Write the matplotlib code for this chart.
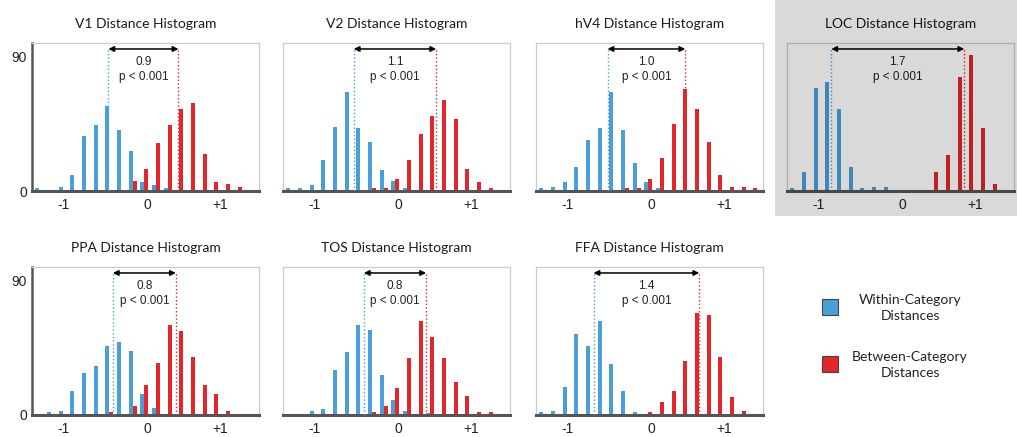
import matplotlib
matplotlib.use("Agg")
import matplotlib.pyplot as plt
from matplotlib.patches import Rectangle
import numpy as np

# ---------------- data ----------------
bin_centers = [-1.425 + 0.15 * k for k in range(19)]

titles = ["V1", "V2", "hV4", "LOC", "PPA", "TOS", "FFA"]

v1_within  = [2, 0, 3, 11, 37, 44, 57, 41, 27, 6, 4, 2, 0, 0, 0, 0, 0, 0, 0]
v1_between = [0, 0, 0, 0, 0, 0, 0, 0, 7, 15, 32, 44, 55, 59, 25, 6, 5, 3, 0]
v2_within  = [2, 2, 4, 21, 43, 66, 42, 33, 14, 7, 2, 0, 0, 0, 0, 0, 0, 0, 0]
v2_between = [0, 0, 0, 0, 0, 0, 0, 2, 2, 8, 21, 38, 50, 61, 48, 15, 6, 2, 0]
hv4_within  = [2, 3, 6, 16, 34, 42, 66, 41, 19, 6, 2, 0, 0, 0, 0, 0, 0, 0, 0]
hv4_between = [0, 0, 0, 0, 0, 0, 0, 2, 2, 8, 22, 45, 68, 55, 33, 11, 3, 3, 2]
loc_within  = [2, 13, 69, 73, 55, 16, 2, 3, 3, 0, 0, 0, 0, 0, 0, 0, 0, 0, 0]
loc_between = [0, 0, 0, 0, 0, 0, 0, 0, 0, 0, 0, 0, 13, 24, 76, 91, 42, 5, 0]
ppa_within  = [0, 2, 3, 16, 28, 33, 46, 49, 43, 14, 5, 0, 0, 0, 0, 0, 0, 0, 0]
ppa_between = [0, 0, 0, 0, 0, 0, 2, 0, 6, 20, 35, 60, 56, 39, 20, 14, 3, 0, 0]
tos_within  = [0, 0, 3, 4, 30, 42, 60, 57, 27, 10, 3, 0, 1.5, 0, 0, 0, 0, 0, 0]
tos_between = [0, 0, 0, 0, 0, 0, 0, 2, 6, 18, 38, 63, 52, 38, 22, 13, 2, 2, 0]
ffa_within  = [2, 3, 19, 54, 46, 63, 34, 16, 2, 0, 0, 0, 0, 0, 0, 0, 0, 0, 0]
ffa_between = [0, 0, 0, 0, 0, 0, 0, 0, 0, 2, 9, 16, 36, 68, 67, 39, 12, 3, 0]

within_means  = [-0.537, -0.61, -0.60, -0.95, -0.48, -0.48, -0.78]
between_means = [0.364, 0.45, 0.40, 0.76, 0.33, 0.32, 0.58]
diff_labels = ["0.9", "1.1", "1.0", "1.7", "0.8", "0.8", "1.4"]
p_label = "p < 0.001"

# tick labels sit where the original figure placed them
xtick_vals = [-1.12, -0.04, 0.905]
xtick_labels = ["-1", "0", "+1"]
ytick_vals = [0, 90]

within_all = [v1_within, v2_within, hv4_within, loc_within, ppa_within, tos_within, ffa_within]
between_all = [v1_between, v2_between, hv4_between, loc_between, ppa_between, tos_between, ffa_between]

# ---------------- style ----------------
BLUE = "#4a9fd8"
RED = "#e3262a"
TITLE_FONT = "Lato"
NUM_FONT = "Liberation Sans"

W, H = 1017, 437
fig = plt.figure(figsize=(W / 100, H / 100), dpi=100)

col_left = [32, 283, 536, 787]
row_top = [43, 267]
ax_w, ax_h = 227, 148

positions = [(0, 0), (0, 1), (0, 2), (0, 3), (1, 0), (1, 1), (1, 2)]
bw = 0.052

for i, (r, c) in enumerate(positions):
    left = col_left[c]
    top = row_top[r]
    ax = fig.add_axes([left / W, (H - top - ax_h) / H, ax_w / W, ax_h / H])
    ax.set_facecolor("none")
    xc = np.array(bin_centers)
    ax.bar(xc - bw / 2, within_all[i], width=bw, color=BLUE, zorder=2)
    ax.bar(xc + bw / 2, between_all[i], width=bw, color=RED, zorder=2)
    ax.set_xlim(-1.52, 1.40)
    ax.set_ylim(0, 99)

    ytop = 95.5
    ax.vlines(within_means[i], 0, ytop, colors=BLUE, linestyles=":", lw=1.0, zorder=3)
    ax.vlines(between_means[i], 0, ytop, colors=RED, linestyles=":", lw=1.0, zorder=3)
    ax.annotate("", xy=(within_means[i], 95), xytext=(between_means[i], 95),
                arrowprops=dict(arrowstyle="<|-|>", color="black", lw=1.1,
                                mutation_scale=8, shrinkA=0, shrinkB=0), zorder=4)
    mid = (within_means[i] + between_means[i]) / 2
    ax.text(mid, 86.5, diff_labels[i], ha="center", va="center",
            fontsize=8.5, family=NUM_FONT, color="#222222")
    ax.text(mid, 76, p_label, ha="center", va="center",
            fontsize=8.5, family=NUM_FONT, color="#222222")

    ax.text(0.5, 1 + 18.5 / ax_h, f"{titles[i]} Distance Histogram",
            transform=ax.transAxes, ha="center", va="center",
            fontsize=10, family=TITLE_FONT, color="#1a1a1a")

    ax.set_xticks(xtick_vals)
    ax.set_xticklabels(xtick_labels, family=NUM_FONT, fontsize=10)
    ax.tick_params(axis="x", length=0, pad=5, colors="#222222")
    if c == 0:
        ax.set_yticks(ytick_vals)
        ax.set_yticklabels([str(v) for v in ytick_vals], family=NUM_FONT, fontsize=10)
        ax.tick_params(axis="y", length=0, pad=3.5, colors="#222222")
    else:
        ax.set_yticks([])

    for s in ["top", "right", "left"]:
        ax.spines[s].set_color("#cccccc")
        ax.spines[s].set_linewidth(0.9)
    ax.spines["bottom"].set_color("#555555")
    ax.spines["bottom"].set_linewidth(2.2)
    if c == 0:
        ax.spines["left"].set_color("#555555")
        ax.spines["left"].set_linewidth(1.8)

# legend
leg_items = [("Within-Category\nDistances", BLUE, 299), ("Between-Category\nDistances", RED, 356)]
for text, col, ytop_px in leg_items:
    fig.add_artist(Rectangle((822 / W, (H - ytop_px - 16) / H), 16 / W, 16 / H,
                             transform=fig.transFigure, facecolor=col,
                             edgecolor="#444444", lw=0.8))
    fig.text(910 / W, (H - ytop_px - 9) / H, text, ha="center", va="center",
             fontsize=10, family=TITLE_FONT, color="#222222", linespacing=1.35)

# LOC highlight overlay
fig.add_artist(Rectangle((775 / W, (H - 216) / H), (W - 775) / W, 216 / H,
                         transform=fig.transFigure, facecolor="black", alpha=0.15,
                         edgecolor="none", zorder=10))

fig.savefig("out.png", dpi=100)
